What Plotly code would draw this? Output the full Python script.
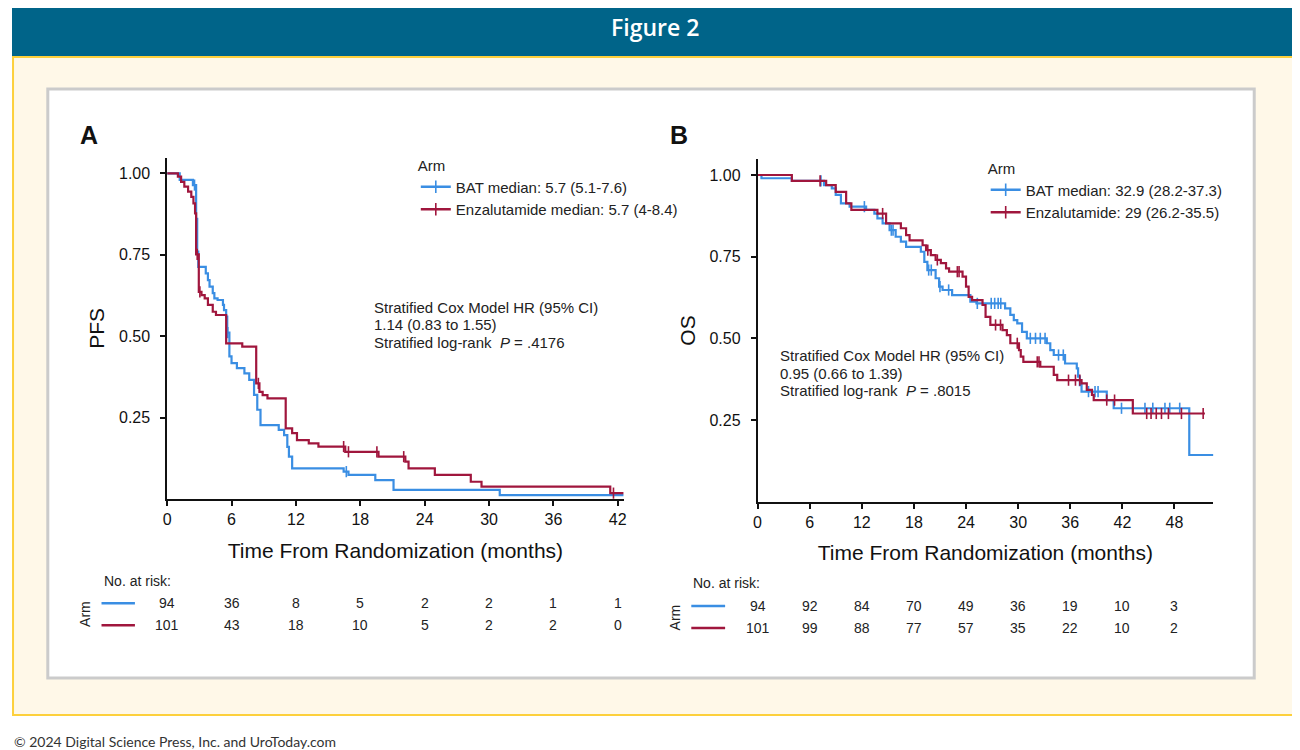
import numpy as np
import plotly.graph_objects as go

# ---------------- DATA ----------------
# Panel A: progression-free survival (months, survival after step)
pfs_bat_t = [0, 1.17, 2.4, 2.7, 2.8, 2.9, 3.6, 3.8, 3.95, 4.25, 4.4, 4.7, 5.2, 5.3, 5.5, 5.6, 5.8, 6.0,
             6.5, 7.2, 7.65, 8.1, 8.4, 8.7, 10.4, 10.9, 11.2, 11.35, 11.65, 16.45, 16.9, 19.4, 21.1, 31.0]
pfs_bat_s = [1.0, 0.98, 0.964, 0.86, 0.76, 0.713, 0.693, 0.672, 0.652, 0.632, 0.616, 0.611, 0.596, 0.58,
             0.56, 0.511, 0.438, 0.417, 0.402, 0.386, 0.366, 0.32, 0.274, 0.227, 0.212, 0.196, 0.16, 0.13,
             0.094, 0.084, 0.074, 0.058, 0.028, 0.012]
pfs_bat_end = 42.55
pfs_bat_cens = [2.55, 5.65, 16.7]

pfs_enz_t = [0, 1.0, 1.3, 1.6, 1.95, 2.25, 2.45, 2.6, 2.7, 2.95, 3.2, 3.5, 3.8, 4.25, 4.55, 5.5, 7.0, 8.3,
             8.6, 8.9, 9.35, 11.05, 11.65, 12.1, 13.2, 14.1, 16.6, 19.7, 22.2, 22.5, 24.95, 28.3, 29.3, 41.3]
pfs_enz_s = [1.0, 0.99, 0.974, 0.959, 0.944, 0.928, 0.908, 0.877, 0.751, 0.636, 0.626, 0.616, 0.596, 0.575,
             0.565, 0.478, 0.468, 0.355, 0.329, 0.319, 0.309, 0.217, 0.202, 0.181, 0.171, 0.161, 0.145,
             0.13, 0.115, 0.094, 0.074, 0.053, 0.038, 0.018]
pfs_enz_end = 42.55
pfs_enz_cens = [2.8, 3.05, 8.5, 16.45, 16.9, 19.55, 22.05, 41.6]

# Panel B: overall survival
os_bat_t = [0, 0.45, 3.95, 7.65, 8.55, 9.0, 9.6, 10.6, 12.5, 13.45, 13.8, 14.4, 15.2, 15.9, 16.5, 17.1,
            18.8, 19.2, 19.55, 20.5, 20.9, 21.3, 22.4, 24.5, 25.2, 28.5, 29.1, 29.5, 29.9, 30.45, 31.0,
            33.3, 33.7, 34.1, 35.4, 36.75, 36.9, 37.1, 37.3, 40.2, 41.0, 49.7]
os_bat_s = [1.0, 0.99, 0.982, 0.969, 0.959, 0.939, 0.913, 0.903, 0.893, 0.882, 0.867, 0.852, 0.831, 0.811,
            0.796, 0.78, 0.765, 0.734, 0.709, 0.684, 0.658, 0.648, 0.632, 0.612, 0.607, 0.592, 0.572,
            0.556, 0.546, 0.52, 0.50, 0.485, 0.464, 0.449, 0.423, 0.408, 0.383, 0.357, 0.337, 0.311,
            0.286, 0.143]
os_bat_end = 53.0
os_bat_cens = [7.3, 12.3, 15.4, 15.6, 19.7, 20.0, 21.0, 22.0, 25.3, 26.9, 27.3, 27.7, 28.0, 31.4, 32.0,
               32.55, 33.1, 34.65, 35.2, 38.1, 38.85, 39.2, 41.9, 43.2, 44.6, 45.5, 46.9, 47.45, 48.6, 52.9]

os_enz_t = [0, 3.95, 7.9, 9.0, 10.2, 10.8, 13.8, 14.8, 16.5, 17.1, 17.5, 19.0, 19.4, 19.95, 20.5, 21.1,
            21.7, 22.05, 23.6, 24.0, 24.3, 24.7, 25.9, 26.25, 26.8, 28.2, 28.7, 29.1, 30.1, 30.3, 30.6,
            32.55, 34.1, 34.5, 37.3, 37.9, 38.5, 38.7, 43.2]
os_enz_s = [1.0, 0.982, 0.969, 0.948, 0.913, 0.893, 0.882, 0.852, 0.837, 0.816, 0.80, 0.785, 0.77, 0.755,
            0.74, 0.73, 0.714, 0.704, 0.689, 0.658, 0.627, 0.617, 0.602, 0.566, 0.541, 0.525, 0.51,
            0.485, 0.464, 0.444, 0.428, 0.413, 0.388, 0.372, 0.362, 0.342, 0.327, 0.311, 0.27]
os_enz_end = 51.5
os_enz_cens = [7.2, 14.4, 19.6, 20.7, 23.0, 23.2, 27.4, 27.97, 29.9, 32.2, 32.4, 35.8, 36.6, 37.1, 40.2,
               41.1, 44.8, 45.3, 45.9, 46.5, 47.3, 48.8, 51.3]

# Risk tables
pfs_ticks = [0, 6, 12, 18, 24, 30, 36, 42]
pfs_risk_bat = [94, 36, 8, 5, 2, 2, 1, 1]
pfs_risk_enz = [101, 43, 18, 10, 5, 2, 2, 0]
os_ticks = [0, 6, 12, 18, 24, 30, 36, 42, 48]
os_risk_bat = [94, 92, 84, 70, 49, 36, 19, 10, 3]
os_risk_enz = [101, 99, 88, 77, 57, 35, 22, 10, 2]

legend_pfs = ["BAT median: 5.7 (5.1-7.6)", "Enzalutamide median: 5.7 (4-8.4)"]
legend_os = ["BAT median: 32.9 (28.2-37.3)", "Enzalutamide: 29 (26.2-35.5)"]
stats_pfs = ["Stratified Cox Model HR (95% CI)", "1.14 (0.83 to 1.55)", "Stratified log-rank  <i>P</i> = .4176"]
stats_os = ["Stratified Cox Model HR (95% CI)", "0.95 (0.66 to 1.39)", "Stratified log-rank  <i>P</i> = .8015"]

BLUE = "#3A8EE3"
RED = "#A0163D"
FONT = "Liberation Sans, Arial, sans-serif"
# the page body has an 8px margin: the figure is sized so it fits the window
OX, OY = 8, 8
FW, FH = 1292, 742


def px(x):
    return (x - OX) / FW


def py(y):
    return 1 - (y - OY) / FH


def step_at(t, s, x):
    t = np.asarray(t)
    s = np.asarray(s)
    i = np.searchsorted(t, x, side="right") - 1
    return s[i]


fig = go.Figure()


def add_curve(t, s, end, cens, color, name, xa, ya, legend):
    xs = list(t) + [end]
    ys = list(s) + [s[-1]]
    fig.add_trace(go.Scatter(x=xs, y=ys, mode="lines", line=dict(color=color, width=2.2, shape="hv"),
                             xaxis=xa, yaxis=ya, showlegend=False, hoverinfo="skip"))
    cy = [float(step_at(t, s, c)) for c in cens]
    fig.add_trace(go.Scatter(x=cens, y=cy, mode="markers", cliponaxis=False,
                             marker=dict(symbol="line-ns-open", size=8, color=color,
                                         line=dict(color=color, width=1.6)),
                             xaxis=xa, yaxis=ya, showlegend=False, hoverinfo="skip"))
    fig.add_trace(go.Scatter(x=[None], y=[None], mode="lines+markers", name=name,
                             line=dict(color=color, width=2.5),
                             marker=dict(symbol="line-ns-open", size=9, color=color,
                                         line=dict(color=color, width=1.6)),
                             xaxis=xa, yaxis=ya, legend=legend))


add_curve(pfs_bat_t, pfs_bat_s, pfs_bat_end, pfs_bat_cens, BLUE, legend_pfs[0], "x", "y", "legend")
add_curve(pfs_enz_t, pfs_enz_s, pfs_enz_end, pfs_enz_cens, RED, legend_pfs[1], "x", "y", "legend")
add_curve(os_bat_t, os_bat_s, os_bat_end, os_bat_cens, BLUE, legend_os[0], "x2", "y2", "legend2")
add_curve(os_enz_t, os_enz_s, os_enz_end, os_enz_cens, RED, legend_os[1], "x2", "y2", "legend2")

axis_common = dict(showline=True, linecolor="#111", linewidth=1.6, ticks="outside", ticklen=5,
                   tickwidth=1.5, tickcolor="#111", showgrid=False, zeroline=False,
                   tickfont=dict(family=FONT, size=16, color="#111"))
xtitle = dict(text="Time From Randomization (months)", font=dict(family=FONT, size=21, color="#111"),
              standoff=16)
ycommon = dict(range=[0, 1.048], tickvals=[0.25, 0.5, 0.75, 1.0],
               ticktext=["0.25", "0.50", "0.75", "1.00"], ticklabelstandoff=7)

fig.update_layout(
    width=FW, height=FH, margin=dict(l=0, r=0, t=0, b=0),
    paper_bgcolor="white", plot_bgcolor="rgba(0,0,0,0)",
    font=dict(family=FONT, color="#111"),
    xaxis=dict(domain=[px(164), px(623)], range=[0, 42.55], tickvals=pfs_ticks, anchor="y",
               title=xtitle, **axis_common),
    yaxis=dict(domain=[py(499), py(157.7)], anchor="x",
               title=dict(text="PFS", font=dict(family=FONT, size=21, color="#111"), standoff=9),
               **ycommon, **axis_common),
    xaxis2=dict(domain=[px(757.6), px(1215.7)], range=[0, 52.45], tickvals=os_ticks, anchor="y2",
                title=xtitle, **axis_common),
    yaxis2=dict(domain=[py(501.7), py(159.3)], anchor="x2",
                title=dict(text="OS", font=dict(family=FONT, size=21, color="#111"), standoff=8),
                **ycommon, **axis_common),
    legend=dict(x=px(414), y=py(151), xanchor="left", yanchor="top", bgcolor="rgba(0,0,0,0)",
                title=dict(text="Arm", font=dict(family=FONT, size=15, color="#222")),
                font=dict(family=FONT, size=15, color="#222"), tracegroupgap=0),
    legend2=dict(x=px(987), y=py(154), xanchor="left", yanchor="top", bgcolor="rgba(0,0,0,0)",
                 title=dict(text="Arm", font=dict(family=FONT, size=15, color="#222")),
                 font=dict(family=FONT, size=15, color="#222"), tracegroupgap=0),
)

shapes = [
    dict(type="rect", xref="paper", yref="paper", x0=0, x1=1, y0=py(57), y1=1,
         fillcolor="#006489", line=dict(width=0), layer="below"),
    dict(type="rect", xref="paper", yref="paper", x0=0.0008, x1=px(1297), y0=py(715), y1=py(57),
         fillcolor="#FFF8E8", line=dict(color="#FDD03C", width=2), layer="below"),
    dict(type="rect", xref="paper", yref="paper", x0=px(44), x1=px(1257), y0=py(678), y1=py(89),
         fillcolor="white", line=dict(color="#CBCBCB", width=3), layer="below"),
]
# risk table colour keys
for (x0, x1, ys) in [(98, 131.6, (603.3, 625.3)), (691, 725, (606, 628))]:
    for yv, col in zip(ys, (BLUE, RED)):
        shapes.append(dict(type="line", xref="paper", yref="paper", x0=px(x0), x1=px(x1),
                           y0=py(yv), y1=py(yv), line=dict(color=col, width=2.5)))
fig.update_layout(shapes=shapes)


def txt(text, x, y, size=15, xanchor="center", family=FONT, color="#222", xref="paper", **kw):
    return dict(text=text, x=x, y=y, xref=xref, yref="paper", xanchor=xanchor, yanchor="middle",
                showarrow=False, font=dict(family=family, size=size, color=color, **kw.pop("fkw", {})),
                **kw)


ann = []
ann.append(txt("Figure 2", 0.5, py(27.5), size=23, family="Open Sans", color="white",
               fkw=dict(weight=600)))
ann.append(txt("© 2024 Digital Science Press, Inc. and UroToday.com", 0, py(741), size=14,
               xanchor="left", family="Lato", color="#333"))
ann.append(txt("<b>A</b>", px(85), py(135), size=25, color="#111"))
ann.append(txt("<b>B</b>", px(678.6), py(135), size=25, color="#111"))
for i, line in enumerate(stats_pfs):
    ann.append(txt(line, px(370), py(307 + 17.5 * i), xanchor="left"))
for i, line in enumerate(stats_os):
    ann.append(txt(line, px(778), py(356 + 17 * i), xanchor="left"))

# risk tables
for xr, ticks, rb, re_, hx, hy, rows, armx in [
        ("x", pfs_ticks, pfs_risk_bat, pfs_risk_enz, 98, 581, (603.3, 625.3), 82),
        ("x2", os_ticks, os_risk_bat, os_risk_enz, 691, 583, (606, 628), 675)]:
    ann.append(txt("No. at risk:", px(hx), py(hy), size=14, xanchor="left"))
    ann.append(txt("Arm", px(armx), py((rows[0] + rows[1]) / 2), size=14, textangle=-90))
    for vals, yv in ((rb, rows[0]), (re_, rows[1])):
        for t, v in zip(ticks, vals):
            ann.append(txt(str(v), t, py(yv), size=14, xref=xr))
fig.update_layout(annotations=ann)

fig.write_html("out.html")
